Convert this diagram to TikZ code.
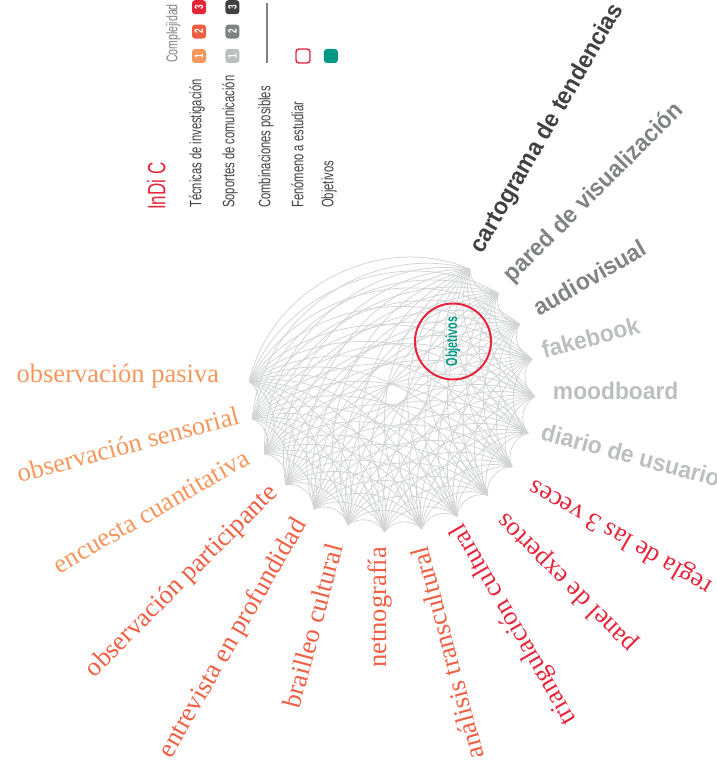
\documentclass[tikz,border=0pt]{standalone}
\usepackage{fontspec}
\setmainfont{Liberation Serif}
\newfontfamily\soportefont[FakeStretch=0.95]{Liberation Sans}
\newfontfamily\legendfont[FakeStretch=0.68]{Liberation Sans}
\usepackage{tikz}
\usetikzlibrary{calc, positioning}

\definecolor{edgegray}{HTML}{D1D3D4}
\definecolor{lightorange}{HTML}{F7975C}
\definecolor{midorange}{HTML}{F15F43}
\definecolor{indired}{HTML}{E6243A}
\definecolor{darkgray}{HTML}{414042}
\definecolor{midgray}{HTML}{808285}
\definecolor{lightgray}{HTML}{BCBEC0}
\definecolor{objteal}{HTML}{009A84}

\begin{document}
\begin{tikzpicture}[x=1pt, y=1pt,
    edge/.style={draw=edgegray, line width=0.75pt},
    tecnica/.style={text=#1, anchor=mid east, inner sep=0pt, font=\fontsize{26.5}{26.5}\selectfont},
    soporte/.style={text=#1, anchor=mid west, inner sep=0pt, font=\soportefont\bfseries\fontsize{24}{24}\selectfont},
    legend/.style={text=darkgray, rotate=90, anchor=mid west, inner sep=0pt, font=\legendfont\fontsize{16.5}{16.5}\selectfont},
    badge/.style={fill=#1, rounded corners=3pt, minimum size=14pt, inner sep=0pt, text=white, font=\legendfont\bfseries\fontsize{12}{12}\selectfont},
    key/.style={minimum size=14pt, inner sep=0pt, rounded corners=3pt}
]
    \path[use as bounding box] (0,0) rectangle (717,-776);

    % Legend
    \node[legend, text=indired, font=\legendfont\fontsize{25}{25}\selectfont] (title) at (163,-210) {InDi C};
    \node[legend] (ltec) at (199,-208) {Técnicas de investigación};
    \node[legend] (lsop) at (232,-208) {Soportes de comunicación};
    \node[legend] (lcomb) at (268,-208) {Combinaciones posibles};
    \node[legend] (lfen) at (301,-208) {Fenómeno a estudiar};
    \node[legend] (lobj) at (331,-208) {Objetivos};
    \node[legend, text=midgray, font=\legendfont\fontsize{15.5}{15.5}\selectfont] (lcomp) at (175,-63) {Complejidad};

    \node[badge=lightorange] (t1) at (199,-56) {\rotatebox{90}{1}};
    \node[badge=midorange, above=10pt of t1] (t2) {\rotatebox{90}{2}};
    \node[badge=indired, above=10pt of t2] (t3) {\rotatebox{90}{3}};
    \node[badge=lightgray, right=19pt of t1] (s1) {\rotatebox{90}{1}};
    \node[badge=midgray, above=10pt of s1] (s2) {\rotatebox{90}{2}};
    \node[badge=darkgray, above=10pt of s2] (s3) {\rotatebox{90}{3}};

    \coordinate (ltop) at (267,-3);
    \coordinate (lbot) at (267,-63);
    \draw[midgray, line width=1.5pt] (lbot) -- (ltop);
    \node[key, draw=indired, line width=1.4pt] (kfen) at (303,-56) {};
    \node[key, fill=objteal, right=13pt of kfen] (kobj) {};

    % Nodes on the circle
    \coordinate (c) at (392,-389);
    \foreach \i in {0,...,16}
        \coordinate (n\i) at ($(c)+(177+15*\i:143)$);

    % Combinaciones posibles
    \foreach \i in {0,...,15} {
        \pgfmathtruncatemacro{\jstart}{\i+1}
        \foreach \j in {\jstart,...,16}
            \draw[edge] (n\i) to[bend left=50] (n\j);
    }

    % Fenomeno / objetivos
    \node[circle, draw=indired, line width=2pt, minimum size=76pt, inner sep=0pt,
          text=objteal, font=\legendfont\bfseries\fontsize{16}{16}\selectfont] (fen) at (453,-341.5) {\rotatebox{90}{Objetivos}};

    % Tecnicas de investigacion
    \foreach \i/\txt/\col/\gap in {
        0/observación pasiva/lightorange/30,
        1/observación sensorial/lightorange/12,
        2/encuesta cuantitativa/lightorange/16,
        3/observación participante/midorange/12,
        4/entrevista en profundidad/midorange/17,
        5/brailleo cultural/midorange/22,
        6/netnografía/midorange/15,
        7/análisis transcultural/midorange/17,
        8/triangulación cultural/indired/8,
        9/panel de expertos/indired/25,
        10/regla de las 3 veces/indired/26}
        \node[tecnica=\col, rotate=15*\i] (tec\i) at ($(c)+(177+15*\i:143+\gap)$) {\txt};

    % Soportes de comunicacion
    \foreach \i/\txt/\col/\gap in {
        11/diario de usuario/lightgray/13,
        12/moodboard/lightgray/18,
        13/fakebook/lightgray/12,
        14/audiovisual/midgray/21,
        15/pared de visualización/midgray/17,
        16/cartograma de tendencias/darkgray/19}
        \node[soporte=\col, rotate=15*\i-180] (sop\i) at ($(c)+(177+15*\i:143+\gap)$) {\txt};
\end{tikzpicture}
\end{document}
